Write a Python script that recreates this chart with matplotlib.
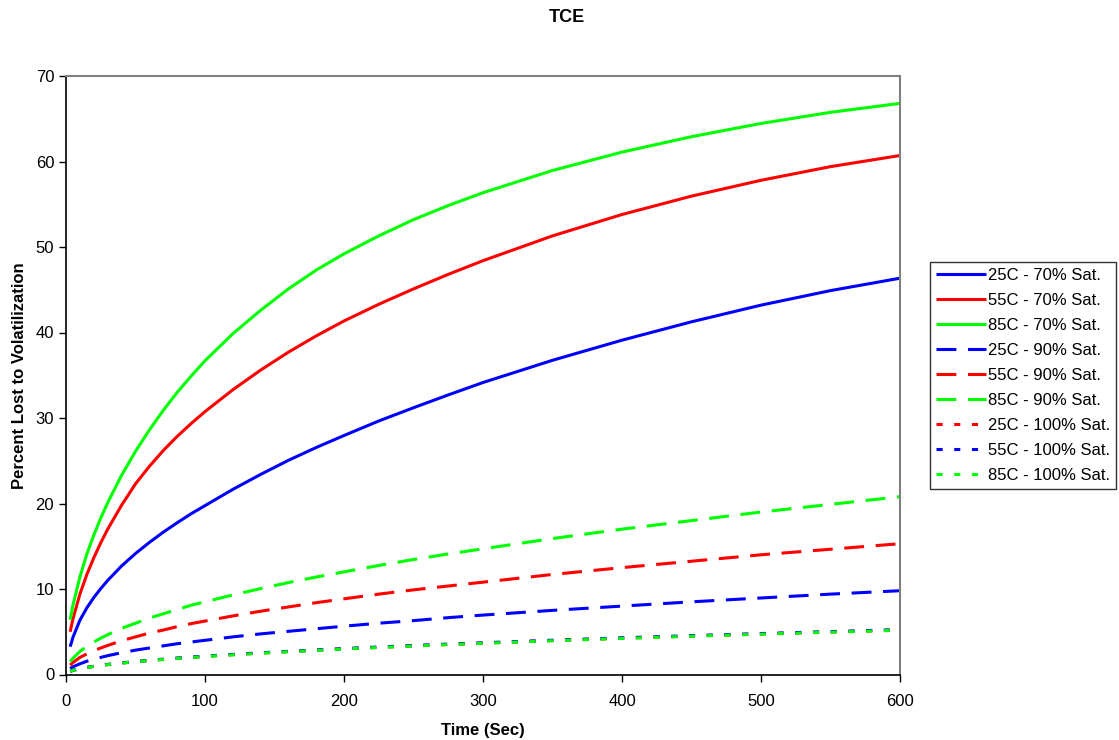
import matplotlib
matplotlib.use("Agg")
import matplotlib.pyplot as plt

plt.rcParams['font.family'] = ['Liberation Sans', 'DejaVu Sans']

time_s = [3, 5, 10, 15, 20, 25, 30, 40, 50, 60, 70, 80, 90, 100, 120, 140, 160, 180,
          200, 225, 250, 275, 300, 350, 400, 450, 500, 550, 600]

# 70% saturation
c25_70 = [3.25, 4.35, 6.35, 7.8, 9.0, 10.05, 11.0, 12.7, 14.15, 15.45, 16.65, 17.75, 18.8, 19.75,
          21.65, 23.4, 25.05, 26.55, 27.95, 29.65, 31.2, 32.7, 34.15, 36.75, 39.1, 41.25, 43.2, 44.9, 46.35]
c55_70 = [5.0, 6.5, 9.4, 11.7, 13.65, 15.4, 17.0, 19.8, 22.3, 24.35, 26.2, 27.85, 29.35, 30.75,
          33.3, 35.6, 37.7, 39.6, 41.35, 43.3, 45.1, 46.8, 48.4, 51.3, 53.8, 55.95, 57.8, 59.4, 60.7]
c85_70 = [6.4, 8.1, 11.4, 14.1, 16.3, 18.3, 20.1, 23.3, 26.1, 28.6, 30.9, 33.0, 34.9, 36.7,
          39.85, 42.6, 45.1, 47.3, 49.2, 51.3, 53.2, 54.85, 56.35, 58.95, 61.1, 62.9, 64.45, 65.75, 66.8]

# 90% saturation
c25_90 = [0.7, 0.9, 1.25, 1.55, 1.8, 2.0, 2.2, 2.55, 2.85, 3.1, 3.35, 3.6, 3.8, 4.0,
          4.4, 4.75, 5.05, 5.35, 5.65, 6.0, 6.3, 6.65, 6.95, 7.5, 8.0, 8.5, 8.95, 9.4, 9.8]
c55_90 = [1.1, 1.4, 2.0, 2.4, 2.8, 3.1, 3.4, 3.95, 4.4, 4.85, 5.2, 5.6, 5.95, 6.25,
          6.85, 7.4, 7.9, 8.4, 8.85, 9.4, 9.9, 10.35, 10.8, 11.7, 12.5, 13.25, 14.0, 14.65, 15.3]
c85_90 = [1.5, 1.9, 2.7, 3.3, 3.8, 4.25, 4.65, 5.4, 6.0, 6.6, 7.1, 7.6, 8.1, 8.5,
          9.3, 10.05, 10.75, 11.4, 12.0, 12.75, 13.45, 14.1, 14.7, 15.9, 17.0, 18.0, 19.0, 19.9, 20.8]

# 100% saturation
c25_100 = [0.37, 0.47, 0.67, 0.82, 0.95, 1.06, 1.16, 1.34, 1.50, 1.64, 1.77, 1.90, 2.01, 2.12,
           2.32, 2.51, 2.68, 2.84, 3.00, 3.18, 3.35, 3.52, 3.67, 3.97, 4.24, 4.50, 4.74, 4.97, 5.19]
c55_100 = [0.38, 0.48, 0.68, 0.83, 0.96, 1.07, 1.18, 1.36, 1.52, 1.66, 1.79, 1.92, 2.04, 2.15,
           2.35, 2.54, 2.71, 2.87, 3.03, 3.22, 3.39, 3.56, 3.71, 4.01, 4.29, 4.55, 4.79, 5.02, 5.25]
c85_100 = [0.37, 0.47, 0.66, 0.81, 0.94, 1.05, 1.15, 1.33, 1.49, 1.63, 1.76, 1.89, 2.00, 2.10,
           2.30, 2.49, 2.66, 2.82, 2.98, 3.16, 3.33, 3.50, 3.65, 3.95, 4.22, 4.48, 4.72, 4.95, 5.18]

labels = ["25C - 70% Sat.", "55C - 70% Sat.", "85C - 70% Sat.",
          "25C - 90% Sat.", "55C - 90% Sat.", "85C - 90% Sat.",
          "25C - 100% Sat.", "55C - 100% Sat.", "85C - 100% Sat."]

BLUE, RED, GREEN = "#0000FF", "#FF0000", "#00FF00"
LW = 2.2
DASH = (0, (6.5, 3.8))
DOT = (0, (2.0, 3.8))

series = [
    (c25_70, BLUE, "-"), (c55_70, RED, "-"), (c85_70, GREEN, "-"),
    (c25_90, BLUE, DASH), (c55_90, RED, DASH), (c85_90, GREEN, DASH),
    (c25_100, RED, DOT), (c55_100, BLUE, DOT), (c85_100, GREEN, DOT),
]

fig = plt.figure(figsize=(11.19, 7.40), dpi=100)
ax = fig.add_axes([66 / 1119, 1 - 674.5 / 740, (900 - 66) / 1119, (674.5 - 76) / 740])

handles = []
for (vals, col, ls), lab in zip(series, labels):
    h, = ax.plot(time_s, vals, color=col, linestyle=ls, linewidth=LW,
                 label=lab, solid_capstyle="butt", dash_capstyle="butt",
                 solid_joinstyle="round")
    handles.append(h)

ax.set_xlim(0, 600)
ax.set_ylim(0, 70)
ax.set_xticks(range(0, 601, 100))
ax.set_yticks(range(0, 71, 10))
ax.tick_params(direction="out", length=5, width=1, labelsize=12, colors="black")
ax.tick_params(axis="x", pad=9)
for side in ("left", "bottom"):
    ax.spines[side].set_color("black")
    ax.spines[side].set_linewidth(1.2)
for side in ("top", "right"):
    ax.spines[side].set_color("#808080")
    ax.spines[side].set_linewidth(1.5)

ax.set_xlabel("Time (Sec)", fontsize=12, fontweight="bold", labelpad=10)
ax.set_ylabel("Percent Lost to Volatilization", fontsize=12, fontweight="bold", labelpad=6)

fig.text(567 / 1119, 1 - 17 / 740, "TCE", ha="center", va="center",
         fontsize=13, fontweight="bold")

leg = fig.legend(handles=handles, loc="upper left",
                 bbox_to_anchor=(930 / 1119, 1 - 262 / 740),
                 fontsize=12, frameon=True, fancybox=False, borderpad=0.35,
                 labelspacing=0.6, handlelength=3.0, handletextpad=0.12,
                 borderaxespad=0)
leg.get_frame().set_edgecolor("black")
leg.get_frame().set_linewidth(1.0)

fig.savefig("out.png", dpi=100, facecolor="white")
